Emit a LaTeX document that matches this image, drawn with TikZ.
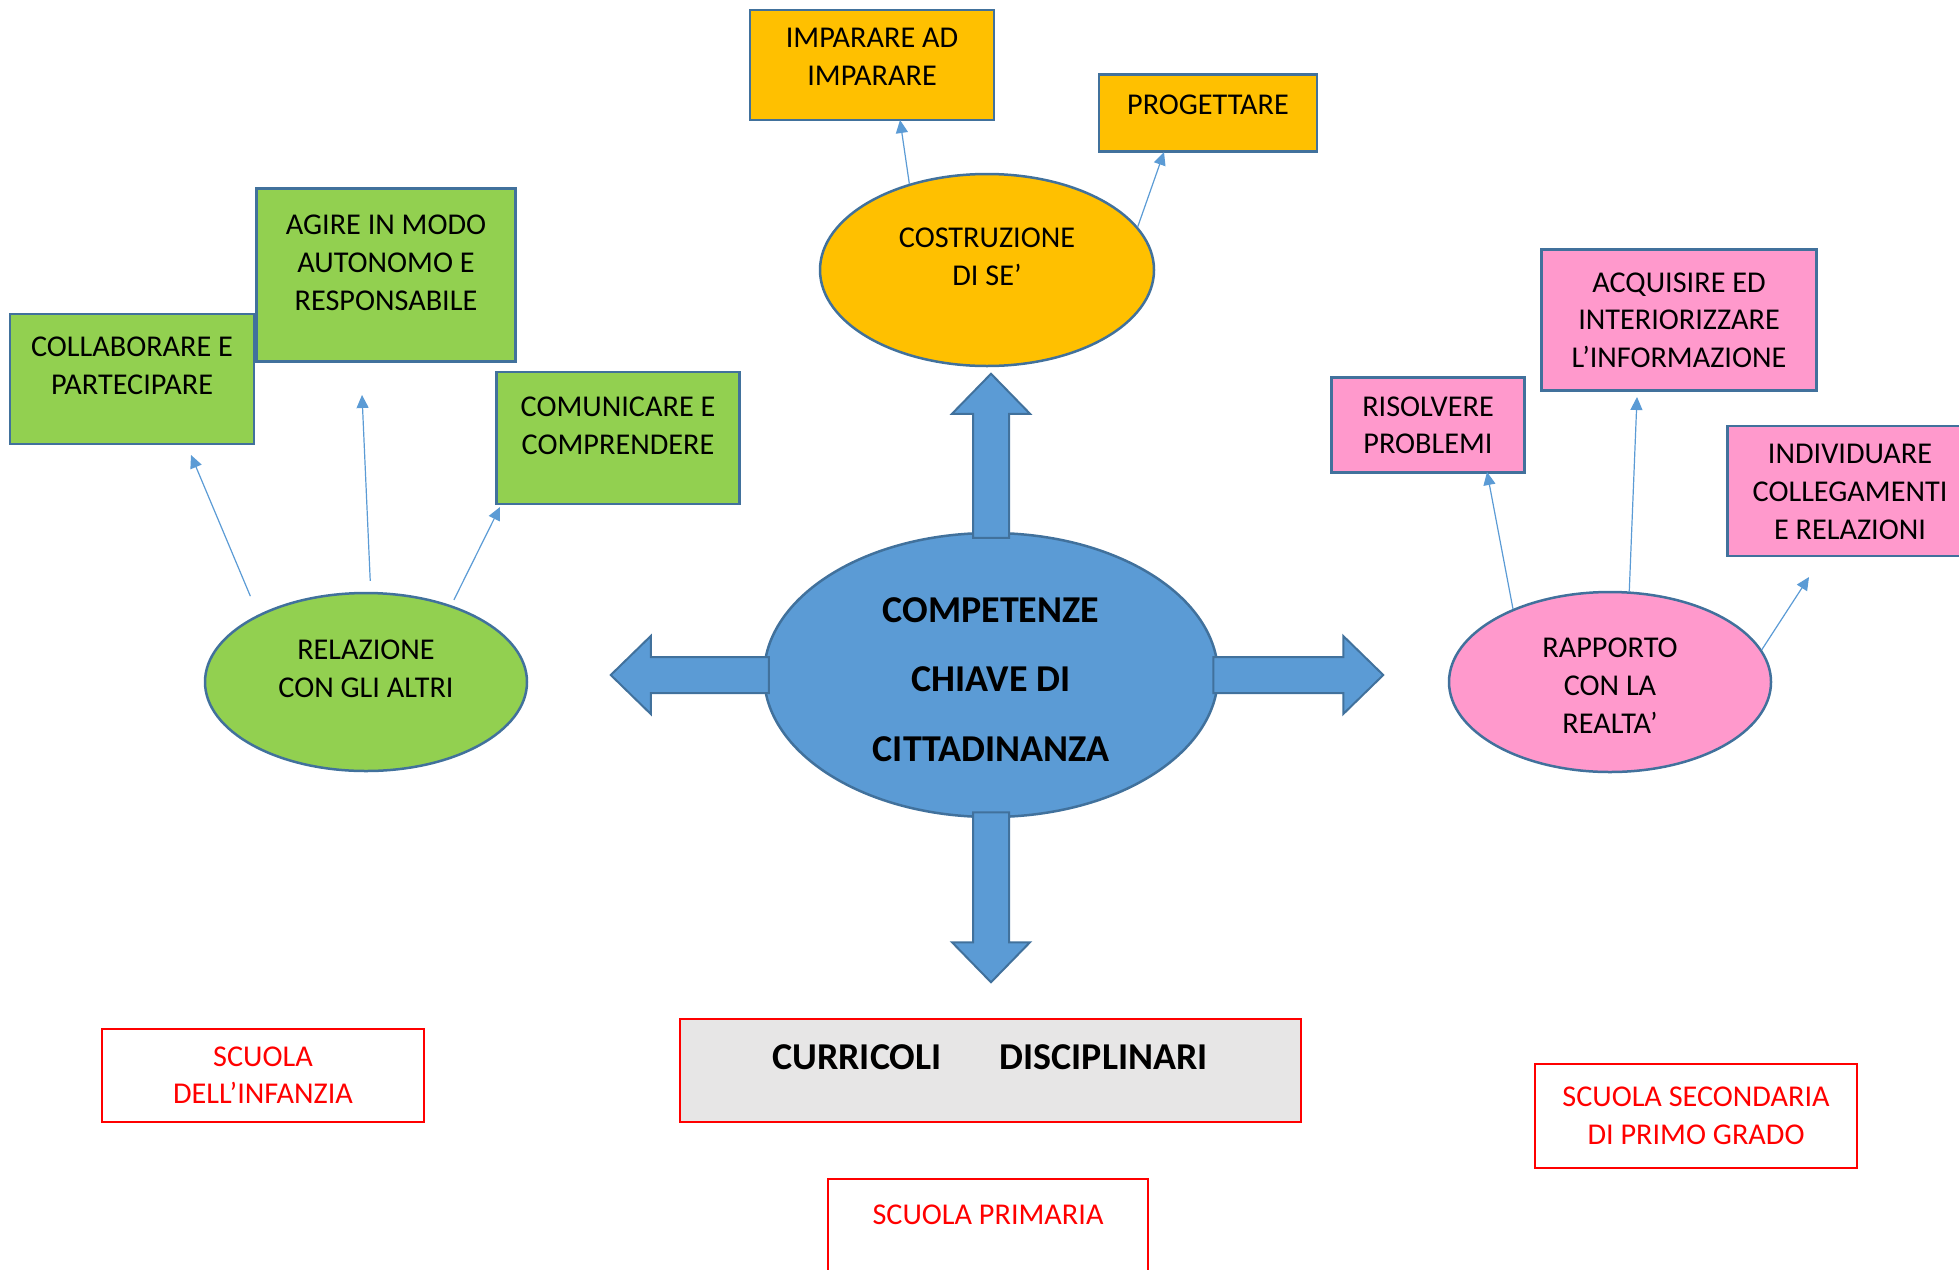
\documentclass[tikz,border=0pt]{standalone}
\usepackage{fontspec}
\setmainfont{Carlito}
\usetikzlibrary{shapes.geometric,arrows.meta,positioning}
\definecolor{cblue}{HTML}{5B9BD5}
\definecolor{cline}{HTML}{41719C}
\definecolor{cgreen}{HTML}{92D050}
\definecolor{corange}{HTML}{FFC000}
\definecolor{cpink}{HTML}{FF99CC}
\definecolor{cgray}{HTML}{E7E6E6}
\tikzstyle{every node}+=[inner sep=0.5mm,align=center,font=\fontsize{8.6}{10.7}\selectfont]
\tikzstyle{oval}=[ellipse,draw=cline,line width=0.25mm,inner sep=0mm]
\tikzstyle{box}=[rectangle,draw=cline,line width=0.25mm]
\tikzstyle{school}=[rectangle,draw=red,line width=0.2mm,text=red]
\tikzstyle{link}=[cblue,line width=0.12mm,-{Triangle[length=1.3mm,width=1.2mm]}]
\tikzstyle{bigarrow}=[draw=cline,fill=cblue,line width=0.2mm]
% text lines moved up (or down) inside their shape
\newcommand{\lift}[2]{\raisebox{#1}[\height][\depth]{\begin{tabular}{@{}c@{}}#2\end{tabular}}}
\newcommand{\drawarrows}[1]{
	\foreach \a/\b/\s in {#1}{
		\draw[link,shorten <=\s] (\a) -- (\b);
	}
}

\begin{document}
\begin{tikzpicture}[x=0.1mm,y=-0.1mm]
\useasboundingbox (0,0) rectangle (1959,1269);

% centre
\node[oval,fill=cblue,minimum width=45.4mm,minimum height=28.4mm,inner sep=-2mm,font=\fontsize{10.8}{19.9}\selectfont\bfseries] (cent) at (991,675) {\lift{-0.3mm}{COMPETENZE\\CHIAVE DI\\CITTADINANZA}};
\foreach \d/\r/\l in {north/90/158,south/-90/164,west/180/152,east/0/164}{
	\draw[bigarrow,shift={(cent.\d)},rotate=\r] (-6,-18) -- (\l-40,-18) -- (\l-40,-39) -- (\l,0) -- (\l-40,39) -- (\l-40,18) -- (-6,18) -- cycle;
}

% costruzione di se'
\node[oval,fill=corange,minimum width=33.4mm,minimum height=19.2mm] (cost) at (987,270) {\lift{1.1mm}{COSTRUZIONE\\DI SE’}};
\node[box,fill=corange,minimum width=24.4mm,minimum height=11mm] (imp) at (872,65) {\lift{0.6mm}{IMPARARE AD\\IMPARARE}};
\node[box,fill=corange,minimum width=21.8mm,minimum height=7.7mm] (prog) at (1208,113) {\lift{0.6mm}{PROGETTARE}};

% relazione con gli altri
\node[oval,fill=cgreen,minimum width=32.2mm,minimum height=17.8mm] (rel) at (366,682) {\lift{1.1mm}{RELAZIONE\\CON GLI ALTRI}};
\node[box,fill=cgreen,minimum width=24.4mm,minimum height=13mm] (coll) at (132,379) {\lift{1.1mm}{COLLABORARE E\\PARTECIPARE}};
\node[box,fill=cgreen,minimum width=25.9mm,minimum height=17.3mm] (agire) at (386,275) {\lift{1mm}{AGIRE IN MODO\\AUTONOMO E\\RESPONSABILE}};
\node[box,fill=cgreen,minimum width=24.3mm,minimum height=13.2mm] (comu) at (618,438) {\lift{1mm}{COMUNICARE E\\COMPRENDERE}};

% rapporto con la realta'
\node[oval,fill=cpink,minimum width=32.2mm,minimum height=18mm] (rap) at (1610,682) {\lift{-0.6mm}{RAPPORTO\\CON LA\\REALTA’}};
\node[box,fill=cpink,minimum width=19.3mm,minimum height=9.5mm] (riso) at (1428,425) {\lift{-0.25mm}{RISOLVERE\\PROBLEMI}};
\node[box,fill=cpink,minimum width=27.5mm,minimum height=14.1mm] (acqu) at (1679,320) {ACQUISIRE ED\\INTERIORIZZARE\\L’INFORMAZIONE};
\node[box,fill=cpink,minimum width=24.5mm,minimum height=13mm] (indiv) at (1850,491) {\lift{-0.3mm}{INDIVIDUARE\\COLLEGAMENTI\\E RELAZIONI}};

% scuole
\node[school,fill=cgray,minimum width=62.1mm,minimum height=10.3mm,font=\fontsize{10.8}{13}\selectfont\bfseries,text=black] (curr) at (990,1070) {\lift{1mm}{CURRICOLI\hspace{5.8mm}DISCIPLINARI}};
\node[school,minimum width=32.2mm,minimum height=9.3mm] (inf) at (263,1075) {SCUOLA\\DELL’INFANZIA};
\node[school,minimum width=32.2mm,minimum height=10.4mm] (sec) at (1696,1116) {SCUOLA SECONDARIA\\DI PRIMO GRADO};
\node[school,minimum width=32mm,minimum height=15mm,anchor=north] (prim) at (988,1178) {};
\node[text=red,below=2.1mm of prim.north] (primtxt) {SCUOLA PRIMARIA};

% arrow ends
\coordinate (tcoll) at (191,455);
\coordinate (tagire) at (362,395);
\coordinate (tcomu) at (500,507);
\coordinate (timp) at (900,120);
\coordinate (tprog) at (1164,152);
\coordinate (triso) at (1487,472);
\coordinate (tacqu) at (1637,397);
\coordinate (tind) at (1809,577);

\drawarrows{rel.148/tcoll/2mm,rel.87/tagire/1.1mm,rel.42/tcomu/0.6mm,cost.132/timp/0mm,cost.16/tprog/0mm,rap.143/triso/0mm,rap.78/tacqu/0mm,rap.12/tind/0mm}
\end{tikzpicture}
\end{document}
